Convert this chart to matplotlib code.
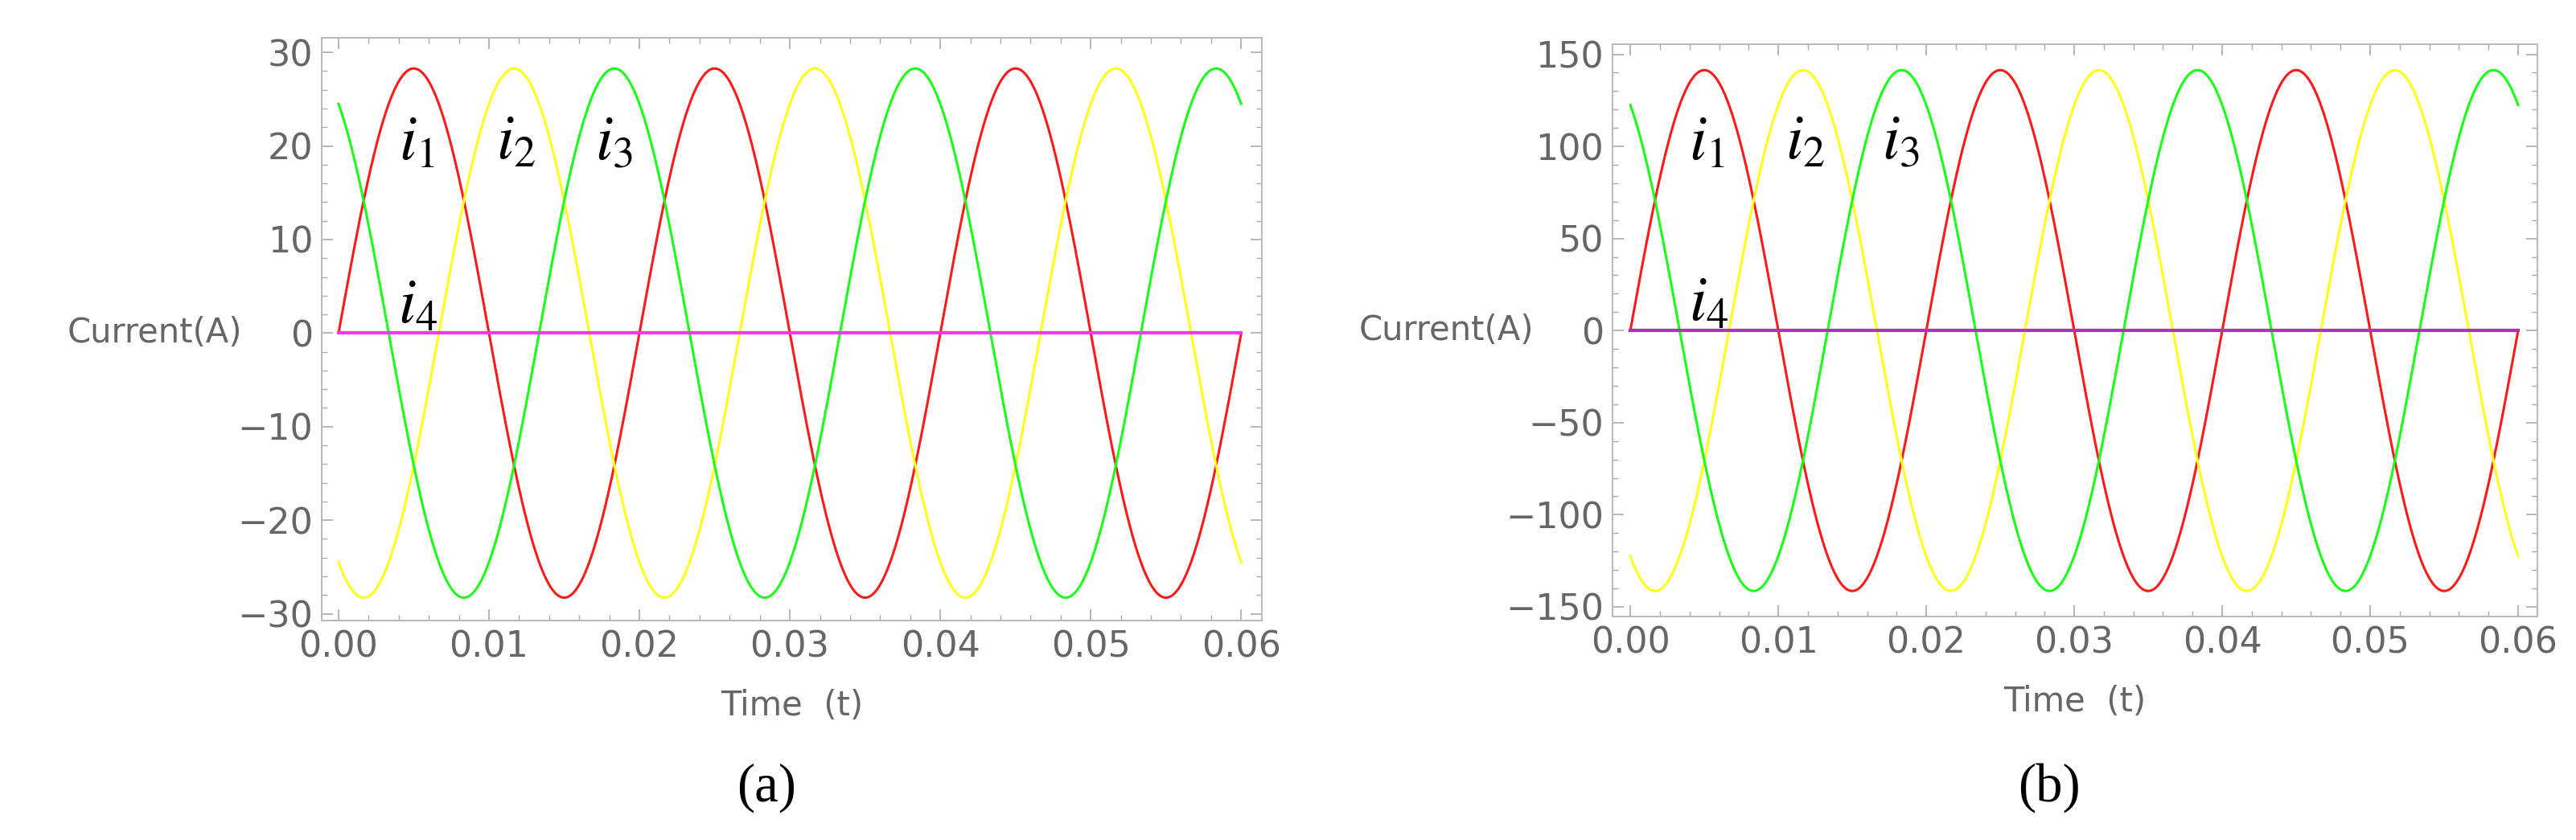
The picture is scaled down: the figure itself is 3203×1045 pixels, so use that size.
import numpy as np
import matplotlib
matplotlib.use("Agg")
import matplotlib.pyplot as plt
from matplotlib.ticker import MultipleLocator

plt.rcParams['mathtext.fontset'] = 'stix'

# waveform parameters
freq_hz = 50.0
amp_a = 28.28          # panel (a) peak current
amp_b = 141.4          # panel (b) peak current
phases_deg = [0, -120, 120]   # i1, i2, i3
colors = ['#ff1a1a', '#ffff1a', '#1aff1a']
i4_color_a = '#ff33ff'
i4_color_b = '#b030c0'
t_end = 0.06
labels = [r'$i_1$', r'$i_2$', r'$i_3$', r'$i_4$']

fig = plt.figure(figsize=(32.03, 10.45), dpi=100)
gray = '#666666'

def panel(rect, amp, ylim, ymaj, ymin, i4c, label_y, i4_y, tag, xlim):
    ax = fig.add_axes(rect)
    t = np.linspace(0, t_end, 2000)
    for ph, c in zip(phases_deg, colors):
        y = amp * np.sin(2*np.pi*freq_hz*t + np.deg2rad(ph))
        if ph == 0:
            t2 = np.append(t, t_end); y2 = np.append(y, 0.0)
            ax.plot(t2, y2, color=c, lw=2.2)
        else:
            ax.plot(t, y, color=c, lw=2.2)
    ax.plot([0, t_end], [0, 0], color=i4c, lw=3)
    ax.set_xlim(*xlim); ax.set_ylim(*ylim)
    ax.xaxis.set_major_locator(MultipleLocator(0.01))
    ax.xaxis.set_minor_locator(MultipleLocator(0.002))
    ax.yaxis.set_major_locator(MultipleLocator(ymaj))
    ax.yaxis.set_minor_locator(MultipleLocator(ymin))
    ax.xaxis.set_major_formatter(matplotlib.ticker.FormatStrFormatter('%.2f'))
    ax.yaxis.set_major_formatter(matplotlib.ticker.FuncFormatter(lambda v, p: f'{v:.0f}'.replace('-', '\u2212')))
    ax.tick_params(which='both', direction='in', top=True, right=True, colors='#aaaaaa',
                   labelcolor=gray, labelsize=32, pad=8)
    ax.tick_params(which='major', length=10, width=1.2)
    ax.tick_params(which='minor', length=5, width=1)
    for s in ax.spines.values():
        s.set_color('#bbbbbb'); s.set_linewidth(1.5)
    ax.set_xlabel('Time  (t)', fontsize=30, color=gray, labelpad=22)
    ax.text(-0.085, ax.transAxes.inverted().transform(ax.transData.transform((0, 0)))[1],
            'Current(A)', transform=ax.transAxes, fontsize=30, color=gray,
            ha='right', va='center')
    for lab, xx in zip(labels[:3], [0.0052, 0.0118, 0.0183]):
        ax.text(xx, label_y, lab, fontsize=56, ha='center', va='center', color='black')
    ax.text(0.0053, i4_y, labels[3], fontsize=56, ha='center', va='center', color='black')
    fig.text(rect[0] + rect[2]/2 - 0.01, 0.062, tag, fontsize=48, ha='center', va='center',
             family='Liberation Serif')
    return ax

panel([0.125, 0.261, 0.365, 0.694], amp_a, (-30.75, 31.56), 10, 2, i4_color_a, 20.5, 3.0,
      '(a)', (-0.0011, 0.0614))
panel([0.626, 0.266, 0.359, 0.681], amp_b, (-155.3, 155.3), 50, 10, i4_color_b, 103, 15,
      '(b)', (-0.0012, 0.0613))

fig.savefig('out.png', dpi=100)
